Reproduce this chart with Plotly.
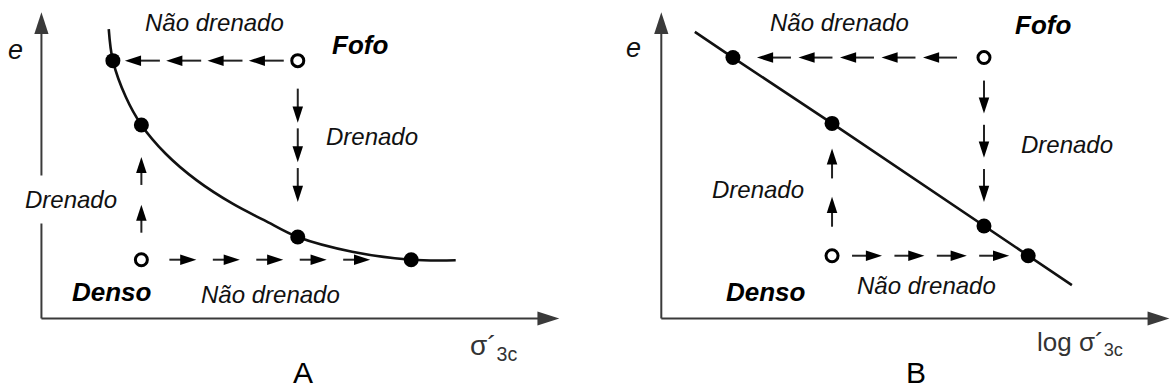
import math
import plotly.graph_objects as go

W, H = 1172, 392
FONT = "Liberation Sans, Arial, sans-serif"

# ---- Panel A: e versus sigma'3c (curved critical-state line) ----
curve_a_sigma = [1.30, 1.38, 1.63, 1.93, 2.40, 3.00, 3.70, 4.30, 4.95, 6.00, 7.14, 8.00]
curve_a_e = [9.45, 8.42, 7.23, 6.32, 5.38, 4.51, 3.74, 3.21, 2.66, 2.18, 1.92, 1.90]

# initial states (open circles): loose ("Fofo"), dense ("Denso")
a_start_sigma = [4.95, 1.93]
a_start_e = [8.42, 1.92]
# final states (filled dots): loose-undrained, loose-drained, dense-drained, dense-undrained
a_end_sigma = [1.38, 4.95, 1.93, 7.14]
a_end_e = [8.42, 2.66, 6.32, 1.92]

# ---- Panel B: e versus log sigma'3c (straight line) ----
line_b_logsigma = [0.66, 1.41, 3.36, 6.35, 7.22, 8.08]
line_b_e = [9.36, 8.52, 6.37, 3.02, 2.05, 1.09]

b_start_logsigma = [6.35, 3.36]
b_start_e = [8.52, 2.05]
b_end_logsigma = [1.41, 6.35, 3.36, 7.22]
b_end_e = [8.52, 3.02, 6.37, 2.05]

# stress paths: (index of start state, index of end state)
paths = [(0, 0), (0, 1), (1, 2), (1, 3)]

# panel geometry
panels = {
    "A": dict(xa="x", ya="y", xdom=(0.0, 580 / W), xr=(-0.8, 10.4), yr=(-2.4, 10.4)),
    "B": dict(xa="x2", ya="y2", xdom=(580 / W, 1.0), xr=(-1.6, 10.05), yr=(-2.4, 10.4)),
}
for p in panels.values():
    p["kx"] = (p["xdom"][1] - p["xdom"][0]) * W / (p["xr"][1] - p["xr"][0])
    p["ky"] = H / (p["yr"][1] - p["yr"][0])

# dashed-arrow train styling per path: (arrows, start pad px, end pad px, arrow length px)
train_style = {
    "A": [(4, 14, 12, 35), (3, 28, 35, 34), (2, 27, 32, 28), (5, 28, 41, 27)],
    "B": [(5, 27, 24, 34), (3, 23, 24, 33), (2, 29, 25, 30), (4, 20, 19, 30)],
}

fig = go.Figure()

line_col = "#111111"
axis_col = "#3a3a3a"


def to_units(p, x0, y0, s, ux, uy):
    return x0 + s * ux / p["kx"], y0 - s * uy / p["ky"]


def add_train(p, x0, y0, x1, y1, n, pad0, pad1, L, lx, ly, hx, hy, ha):
    dxp = (x1 - x0) * p["kx"]
    dyp = -(y1 - y0) * p["ky"]
    D = math.hypot(dxp, dyp)
    ux, uy = dxp / D, dyp / D
    gap = (D - pad0 - pad1 - n * L) / (n - 1) if n > 1 else 0
    ang = math.degrees(math.atan2(ux, -uy))
    for i in range(n):
        s_tail = pad0 + i * (L + gap)
        s_tip = s_tail + L
        tx, ty = to_units(p, x0, y0, s_tail, ux, uy)
        ex, ey = to_units(p, x0, y0, s_tip - 8, ux, uy)
        hx_, hy_ = to_units(p, x0, y0, s_tip, ux, uy)
        lx += [tx, ex, None]
        ly += [ty, ey, None]
        hx.append(hx_)
        hy.append(hy_)
        ha.append(ang)


def build_panel(key, cx, cy, sx, sy, ex, ey, smooth):
    p = panels[key]
    xa, ya = p["xa"], p["ya"]

    # axes drawn as arrows from the origin
    fig.add_trace(go.Scatter(x=[0, 9.8, None, 0, 0], y=[0, 0, None, 0, 9.6], mode="lines",
                             line=dict(color=axis_col, width=2), xaxis=xa, yaxis=ya,
                             hoverinfo="skip"))
    fig.add_trace(go.Scatter(x=[10, 0], y=[0, 10], mode="markers",
                             marker=dict(symbol="arrow", size=23, angle=[90, 0], color=axis_col,
                                         line=dict(width=0)),
                             xaxis=xa, yaxis=ya, hoverinfo="skip"))

    # state line
    fig.add_trace(go.Scatter(x=cx, y=cy, mode="lines",
                             line=dict(color=line_col, width=2.6,
                                       shape="spline" if smooth else "linear", smoothing=1.0),
                             xaxis=xa, yaxis=ya, hoverinfo="skip"))

    # dashed arrow trains along each stress path
    lx, ly, hx, hy, ha = [], [], [], [], []
    for (i0, i1), st in zip(paths, train_style[key]):
        add_train(p, sx[i0], sy[i0], ex[i1], ey[i1], *st, lx, ly, hx, hy, ha)
    fig.add_trace(go.Scatter(x=lx, y=ly, mode="lines", line=dict(color="#222222", width=2),
                             xaxis=xa, yaxis=ya, hoverinfo="skip"))
    fig.add_trace(go.Scatter(x=hx, y=hy, mode="markers",
                             marker=dict(symbol="arrow", size=17, angle=ha, color="black",
                                         line=dict(width=0)),
                             xaxis=xa, yaxis=ya, hoverinfo="skip"))

    # final states and initial states
    fig.add_trace(go.Scatter(x=ex, y=ey, mode="markers",
                             marker=dict(symbol="circle", size=15, color="black"),
                             xaxis=xa, yaxis=ya, hoverinfo="skip"))
    fig.add_trace(go.Scatter(x=sx, y=sy, mode="markers",
                             marker=dict(symbol="circle-open", size=12, color="black",
                                         line=dict(width=3)),
                             xaxis=xa, yaxis=ya, hoverinfo="skip"))


build_panel("A", curve_a_sigma, curve_a_e, a_start_sigma, a_start_e, a_end_sigma, a_end_e, True)
build_panel("B", line_b_logsigma, line_b_e, b_start_logsigma, b_start_e, b_end_logsigma, b_end_e, False)


def label(key, x, y, text, size=24, style="italic", weight="normal", color="#111111",
          xanchor="center", bg=None, pad=1):
    p = panels[key]
    fig.add_annotation(x=x, y=y, xref=p["xa"], yref=p["ya"], text=text, showarrow=False,
                       xanchor=xanchor, yanchor="middle",
                       font=dict(family=FONT, size=size, color=color, style=style, weight=weight),
                       bgcolor=bg, borderpad=pad)


# Panel A labels
label("A", -0.51, 8.77, "e", size=27)
label("A", 3.35, 9.65, "Não drenado")
label("A", 6.15, 8.93, "Fofo", size=26, weight="bold", color="black")
label("A", 6.38, 5.93, "Drenado")
label("A", 0.57, 3.87, "Drenado", bg="white", pad=10)
label("A", 1.36, 0.87, "Denso", size=26, weight="bold", color="black")
label("A", 4.43, 0.77, "Não drenado")
label("A", 8.24, -0.96, "σ´<sub>3c</sub>", size=28, style="normal", color="#333333", xanchor="left")
label("A", 5.05, -1.76, "A", size=30, style="normal", color="black", pad=0)

# Panel B labels
label("B", -0.54, 8.83, "e", size=27)
label("B", 3.51, 9.65, "Não drenado")
label("B", 7.51, 9.58, "Fofo", size=26, weight="bold", color="black")
label("B", 7.98, 5.67, "Drenado")
label("B", 1.90, 4.20, "Drenado")
label("B", 2.06, 0.87, "Denso", size=26, weight="bold", color="black")
label("B", 5.21, 1.09, "Não drenado")
label("B", 7.35, -0.80, "log σ´<sub>3c</sub>", size=26, style="normal", color="#333333", xanchor="left")
label("B", 5.01, -1.76, "B", size=30, style="normal", color="black", pad=0)

axis_common = dict(visible=False, fixedrange=True)
fig.update_layout(
    width=W, height=H, margin=dict(l=0, r=0, t=0, b=0),
    paper_bgcolor="white", plot_bgcolor="white", showlegend=False,
    xaxis=dict(domain=list(panels["A"]["xdom"]), range=list(panels["A"]["xr"]), **axis_common),
    yaxis=dict(domain=[0, 1], range=list(panels["A"]["yr"]), **axis_common),
    xaxis2=dict(domain=list(panels["B"]["xdom"]), range=list(panels["B"]["xr"]), **axis_common),
    yaxis2=dict(domain=[0, 1], range=list(panels["B"]["yr"]), anchor="x2", **axis_common),
)

fig.write_html("out.html")
